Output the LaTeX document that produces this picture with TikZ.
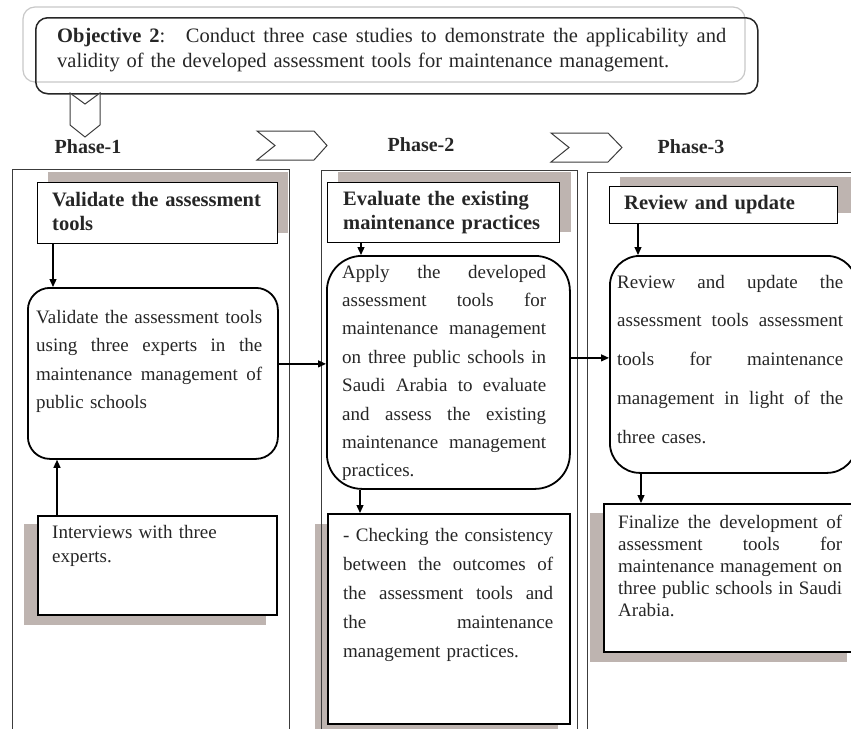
\documentclass[tikz,border=0pt]{standalone}
\usepackage{fontspec}
\setmainfont{Liberation Serif}
\usetikzlibrary{arrows.meta}

\definecolor{ink}{RGB}{38,38,38}
\definecolor{shade}{RGB}{190,180,176}
\definecolor{pale}{RGB}{200,200,200}
\definecolor{frameline}{RGB}{60,60,60}

% one justified line, stretched to the width given by the node's jw key
\def\jwidth{200pt}
\newcommand\jl[1]{\leavevmode\hbox to \jwidth{\spaceskip=.25em plus 3em minus .05em\relax #1}}

\tikzset{
  jw/.code={\def\jwidth{#1}},
  box/.style={draw=black, line width=1.3pt, fill=white, inner sep=0pt, anchor=north west},
  lowbox/.style={box, line width=1.7pt},
  roundbox/.style={box, line width=1.8pt},
  shadowbox/.style={fill=shade, draw=none, inner sep=0pt, anchor=north west},
  txt/.style={anchor=base west, inner sep=0pt, text=ink, align=left},
  titletxt/.style={txt, font=\fontsize{20.5}{24}\selectfont\bfseries},
  phase/.style={anchor=base, inner sep=0pt, text=ink, font=\fontsize{20}{24}\selectfont\bfseries},
  arr/.style={-{Triangle[length=8pt,width=7pt]}, line width=1.3pt, black},
  chevron/.style={draw=frameline, line width=1pt, fill=white},
  frame/.style={draw=frameline, line width=1pt}
}

\begin{document}
\begin{tikzpicture}[x=1pt,y=-1pt]
\useasboundingbox (0,0) rectangle (851,728);
\clip (0,0) rectangle (851,728);
\fill[white] (0,0) rectangle (851,728);

% ---- objective banner ----
\draw[pale, line width=1.2pt, rounded corners=12pt] (23,7) rectangle (745,82);
\node[draw=ink, line width=1.5pt, rounded corners=12pt, minimum width=722pt,
      minimum height=76pt, inner sep=0pt, anchor=north west] (obj) at (35,17) {};
\node[txt, font=\fontsize{20.5}{25}\selectfont, text width=669pt, jw=669pt] (objtext) at (57,42)
  {\jl{\textbf{Objective 2}:\quad Conduct three case studies to demonstrate the applicability and}\\
   validity of the developed assessment tools for maintenance management.};

% ---- phase chevrons and labels ----
\draw[chevron] (70,93) -- (85,104) -- (100,93) -- (100,125) -- (85,137) -- (70,125) -- cycle;
\draw[chevron] (257,131) -- (314,131) -- (327,145.5) -- (314,160) -- (257,160) -- (275,145.5) -- cycle;
\draw[chevron] (551,133) -- (608,133) -- (622,147.5) -- (608,162) -- (551,162) -- (569,147.5) -- cycle;
\node[phase] (ph1) at (88,153) {Phase-1};
\node[phase] (ph2) at (421,151) {Phase-2};
\node[phase] (ph3) at (691,153) {Phase-3};

% ---- shadows ----
\node[shadowbox, minimum width=240pt, minimum height=61pt] (t1s) at (48,172) {};
\node[shadowbox, minimum width=242pt, minimum height=101pt] (i1s) at (24,524) {};
\node[shadowbox, minimum width=233pt, minimum height=60pt] (t2s) at (338,172) {};
\node[shadowbox, minimum width=243pt, minimum height=215pt] (c2s) at (315,524) {};
\node[shadowbox, minimum width=240pt, minimum height=36pt] (t3s) at (620,177) {};
\node[shadowbox, minimum width=257pt, minimum height=149pt] (f3s) at (590,513) {};

% ---- phase frames ----
\draw[frame] (12,740) -- (12,169) -- (289,169) -- (289,740);
\draw[frame] (321,740) -- (321,170) -- (577,170) -- (577,740);
\draw[frame] (587,740) -- (587,172) -- (860,172);

% ---- phase 1 ----
\node[box, minimum width=240pt, minimum height=61pt] (t1) at (37,182) {};
\node[titletxt, text width=225pt] (t1text) at (52,206) {Validate the assessment\\ tools};
\node[roundbox, rounded corners=22pt, minimum width=250pt, minimum height=171pt] (r1) at (27,287) {};
\node[txt, font=\fontsize{19}{28.5}\selectfont, text width=226pt, jw=226pt] (r1text) at (36,323)
  {\jl{Validate the assessment tools}\\
   \jl{using three experts in the}\\
   \jl{maintenance management of}\\
   public schools};
\node[lowbox, minimum width=239pt, minimum height=99pt] (i1) at (37,515) {};
\node[txt, font=\fontsize{19}{24}\selectfont, text width=210pt] (i1text) at (52,538)
  {Interviews with three\\ experts.};

% ---- phase 2 ----
\node[box, minimum width=232pt, minimum height=60pt] (t2) at (327,182) {};
\node[titletxt, text width=215pt] (t2text) at (343,205) {Evaluate the existing\\ maintenance practices};
\node[roundbox, rounded corners=35pt, minimum width=243pt, minimum height=233pt] (r2) at (326,255) {};
\node[txt, font=\fontsize{19}{28.4}\selectfont, text width=204pt, jw=204pt] (r2text) at (342,278)
  {\jl{Apply the developed}\\
   \jl{assessment tools for}\\
   \jl{maintenance management}\\
   \jl{on three public schools in}\\
   \jl{Saudi Arabia to evaluate}\\
   \jl{and assess the existing}\\
   \jl{maintenance management}\\
   practices.};
\node[lowbox, minimum width=242pt, minimum height=210pt] (c2) at (327,513) {};
\node[txt, font=\fontsize{19}{29}\selectfont, text width=210pt, jw=210pt] (c2text) at (343,541)
  {\jl{- Checking the consistency}\\
   \jl{between the outcomes of}\\
   \jl{the assessment tools and}\\
   \jl{the maintenance}\\
   management practices.};

% ---- phase 3 ----
\node[box, minimum width=228pt, minimum height=37pt] (t3) at (609,186) {};
\node[titletxt, text width=210pt] (t3text) at (624,209) {Review and update};
\node[roundbox, rounded corners=30pt, minimum width=247pt, minimum height=217pt] (r3) at (609,255) {};
\node[txt, font=\fontsize{19}{38.75}\selectfont, text width=226pt, jw=226pt] (r3text) at (617,288)
  {\jl{Review and update the}\\
   \jl{assessment tools assessment}\\
   \jl{tools for maintenance}\\
   \jl{management in light of the}\\
   three cases.};
\node[lowbox, minimum width=260pt, minimum height=148pt] (f3) at (603,503) {};
\node[txt, font=\fontsize{19}{22}\selectfont, text width=224pt, jw=224pt] (f3text) at (618,528)
  {\jl{Finalize the development of}\\
   \jl{assessment tools for}\\
   \jl{maintenance management on}\\
   \jl{three public schools in Saudi}\\
   Arabia.};

% ---- connectors ----
\draw[arr] ([xshift=16pt]t1.south west) -- ([xshift=26pt]r1.north west);
\draw[arr] ([xshift=20pt]i1.north west) -- ([xshift=30pt]r1.south west);
\draw[arr] ([yshift=9.5pt]r1.east) -- ([yshift=8.5pt]r2.west);
\draw[arr] ([xshift=34pt]t2.south west) -- ([xshift=35pt]r2.north west);
\draw[arr] ([xshift=34pt]r2.south west) -- ([xshift=33pt]c2.north west);
\draw[arr] ([yshift=14.5pt]r2.east) -- ([yshift=6.5pt]r3.west);
\draw[arr] ([xshift=29pt]t3.south west) -- ([xshift=29pt]r3.north west);
\draw[arr] ([xshift=32pt]r3.south west) -- ([xshift=38pt]f3.north west);
\end{tikzpicture}
\end{document}
